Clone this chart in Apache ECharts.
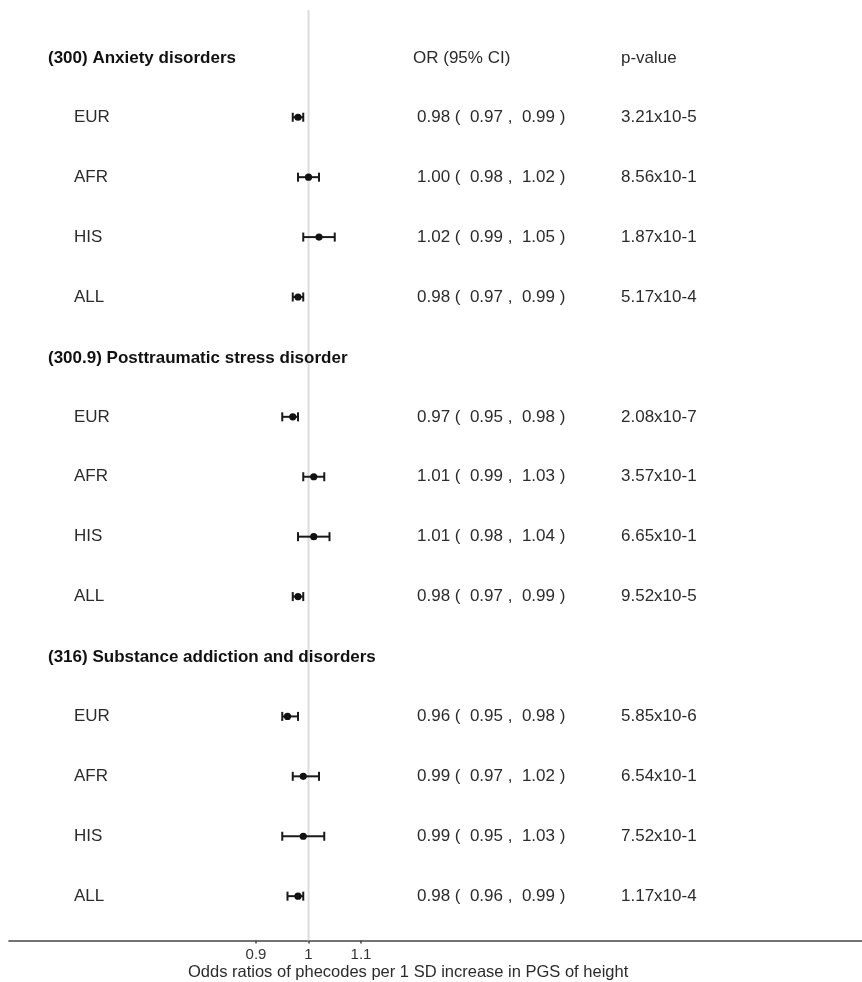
<!DOCTYPE html>
<html>
<head>
<meta charset="utf-8">
<script src="https://cdn.jsdelivr.net/npm/echarts@6/dist/echarts.min.js"></script>
<style>
  html, body { margin: 0; padding: 0; background: #ffffff; }
  #chart { width: 862px; height: 982px; }
</style>
</head>
<body>
<div id="chart"></div>
<script>
// Phecode groups and the ancestry subgroups reported under each
const phenotypes = [
  '(300) Anxiety disorders',
  '(300.9) Posttraumatic stress disorder',
  '(316) Substance addiction and disorders'
];
const populations = ['EUR', 'AFR', 'HIS', 'ALL'];

// Odds ratios and 95% confidence limits, one inner array per phecode (EUR, AFR, HIS, ALL)
const oddsRatio = [
  [0.98, 1.00, 1.02, 0.98],
  [0.97, 1.01, 1.01, 0.98],
  [0.96, 0.99, 0.99, 0.98]
];
const ciLower = [
  [0.97, 0.98, 0.99, 0.97],
  [0.95, 0.99, 0.98, 0.97],
  [0.95, 0.97, 0.95, 0.96]
];
const ciUpper = [
  [0.99, 1.02, 1.05, 0.99],
  [0.98, 1.03, 1.04, 0.99],
  [0.98, 1.02, 1.03, 0.99]
];
const pValues = [
  ['3.21x10-5', '8.56x10-1', '1.87x10-1', '5.17x10-4'],
  ['2.08x10-7', '3.57x10-1', '6.65x10-1', '9.52x10-5'],
  ['5.85x10-6', '6.54x10-1', '7.52x10-1', '1.17x10-4']
];

const xTicks = [0.9, 1, 1.1];
const nullValue = 1;
const columnHeaders = ['OR (95% CI)', 'p-value'];
const xAxisTitle = 'Odds ratios of phecodes per 1 SD increase in PGS of height';

// Layout
const FONT = "'Liberation Sans', Arial, Helvetica, sans-serif";
const FONT_SIZE = 17;
const TEXT_COLOR = '#2b2b2b';
const COL_HEADER_X = 48;
const COL_POP_X = 74;
const COL_OR_X = 417;
const COL_P_X = 621;
const Y_MIN = -0.79;
const Y_MAX = 14.74;

// One row per header line or estimate line, top to bottom
const rows = [];
phenotypes.forEach((name, g) => {
  rows.push({ kind: 'header', label: name });
  populations.forEach((pop, i) => {
    rows.push({
      kind: 'est', label: pop,
      or: oddsRatio[g][i], lo: ciLower[g][i], hi: ciUpper[g][i], p: pValues[g][i]
    });
  });
});

const fmt = v => v.toFixed(2);
const ciText = r => fmt(r.or) + ' (  ' + fmt(r.lo) + ' ,  ' + fmt(r.hi) + ' )';

const estData = [];
rows.forEach((r, idx) => {
  if (r.kind === 'est') estData.push([r.lo, r.hi, r.or, idx]);
});
const textData = rows.map((r, idx) => [nullValue, idx]);

const textStyle = (text, x, y, bold) => ({
  type: 'text',
  style: {
    text: text, x: x, y: y,
    fill: bold ? '#111111' : TEXT_COLOR,
    font: (bold ? 'bold ' : '') + FONT_SIZE + 'px ' + FONT,
    textAlign: 'left', textVerticalAlign: 'middle'
  }
});

const chart = echarts.init(document.getElementById('chart'), null, { renderer: 'canvas' });

chart.setOption({
  backgroundColor: '#ffffff',
  animation: false,
  grid: { left: 9, right: 0, top: 10, bottom: 41.5, containLabel: false },
  xAxis: {
    type: 'value',
    position: 'bottom',
    min: 0.4295,
    max: 2.0543,
    splitLine: { show: false },
    axisLine: { show: true, onZero: false, lineStyle: { color: '#444444', width: 1.6 } },
    axisTick: { show: true, customValues: xTicks, length: 3, lineStyle: { color: '#444444', width: 1.5 } },
    axisLabel: {
      customValues: xTicks, margin: 7,
      formatter: v => String(v),
      fontFamily: FONT, fontSize: 15, color: '#333333'
    }
  },
  yAxis: {
    type: 'value',
    inverse: true,
    min: Y_MIN,
    max: Y_MAX,
    show: false
  },
  graphic: [{
    type: 'text',
    left: 188,
    top: 964,
    style: { text: xAxisTitle, font: '16.5px ' + FONT, fill: TEXT_COLOR }
  }],
  series: [
    {
      // reference line at OR = 1, kept behind the estimates
      type: 'line',
      name: 'null',
      data: [[nullValue, Y_MIN], [nullValue, Y_MAX]],
      z: 1,
      silent: true,
      showSymbol: false,
      symbol: 'none',
      lineStyle: { color: '#dcdcdc', width: 2 }
    },
    {
      type: 'custom',
      name: 'estimates',
      coordinateSystem: 'cartesian2d',
      encode: { x: [0, 1, 2], y: 3 },
      data: estData,
      z: 3,
      renderItem: (params, api) => {
        const y = api.value(3);
        const a = api.coord([api.value(0), y]);
        const b = api.coord([api.value(1), y]);
        const m = api.coord([api.value(2), y]);
        const cap = 4.5;
        const stroke = { stroke: '#1a1a1a', lineWidth: 2 };
        return {
          type: 'group',
          children: [
            { type: 'line', shape: { x1: a[0], y1: a[1], x2: b[0], y2: b[1] }, style: stroke },
            { type: 'line', shape: { x1: a[0], y1: a[1] - cap, x2: a[0], y2: a[1] + cap }, style: stroke },
            { type: 'line', shape: { x1: b[0], y1: b[1] - cap, x2: b[0], y2: b[1] + cap }, style: stroke },
            { type: 'circle', shape: { cx: m[0], cy: m[1], r: 3.6 }, style: { fill: '#111111' } }
          ]
        };
      }
    },
    {
      type: 'custom',
      name: 'table',
      coordinateSystem: 'cartesian2d',
      encode: { x: 0, y: 1 },
      data: textData,
      z: 4,
      renderItem: (params, api) => {
        const idx = api.value(1);
        const y = api.coord([nullValue, idx])[1];
        const r = rows[idx];
        const children = [];
        if (r.kind === 'header') {
          children.push(textStyle(r.label, COL_HEADER_X, y + 1, true));
          if (idx === 0) {
            children.push(textStyle(columnHeaders[0], COL_OR_X - 4, y + 1, false));
            children.push(textStyle(columnHeaders[1], COL_P_X, y + 1, false));
          }
        } else {
          children.push(textStyle(r.label, COL_POP_X, y, false));
          children.push(textStyle(ciText(r), COL_OR_X, y, false));
          children.push(textStyle(r.p, COL_P_X, y, false));
        }
        return { type: 'group', children: children };
      }
    }
  ]
});
</script>
</body>
</html>
